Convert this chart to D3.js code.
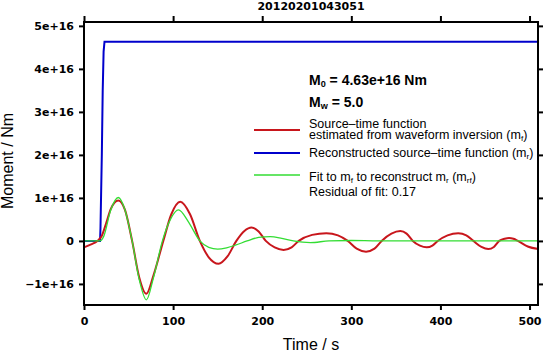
<!DOCTYPE html>
<html>
<head>
<meta charset="utf-8">
<script src="https://cdn.jsdelivr.net/npm/d3@7"></script>
<style>
  body { margin: 0; background: #fff; }
  svg { display: block; }
</style>
</head>
<body>
<svg width="544" height="353"></svg>
<script>
// time (s) and moment (units of 1e16 Nm)
var redT = [0, 8, 15, 20, 25, 30, 38.5, 46, 54, 62, 70, 78, 89, 98, 108, 119, 130, 140, 151, 161, 171, 180, 188, 196, 204, 214, 224, 233, 241, 256, 272, 285, 296, 306, 316.5, 326, 334, 345, 355, 362, 369, 377, 384.6, 391, 397, 408, 420, 429, 437, 446, 453.8, 460, 466, 472, 477, 482, 487, 498, 510];
var redV = [-0.15, -0.08, 0, 0.12, 0.42, 0.74, 0.94, 0.72, 0, -0.85, -1.23, -0.8, 0, 0.62, 0.91, 0.62, 0, -0.38, -0.53, -0.36, 0, 0.23, 0.31, 0.22, 0, -0.15, -0.21, -0.15, 0, 0.14, 0.18, 0.13, 0, -0.18, -0.25, -0.18, 0, 0.17, 0.23, 0.17, 0, -0.11, -0.15, -0.11, 0, 0.13, 0.18, 0.13, 0, -0.14, -0.19, -0.14, 0, 0.05, 0.07, 0.05, 0, -0.13, -0.19];

var greenT = [0, 18, 22, 30, 38.5, 46, 54, 62, 70, 78, 88, 97, 106, 117, 130, 140, 150, 160, 170, 183, 196, 209, 222, 235, 254, 275, 300, 330, 510];
var greenV = [0, 0, 0.1, 0.72, 1.01, 0.72, 0, -0.9, -1.37, -0.85, 0, 0.5, 0.72, 0.45, 0, -0.15, -0.19, -0.16, -0.1, 0, 0.08, 0.1, 0.06, 0, -0.04, 0, 0.01, 0, 0];

var blueT = [0, 18, 18.5, 20, 21, 22, 23, 510];
var blueV = [0, 0, 0.3, 2.0, 3.5, 4.4, 4.63, 4.63];

var xTicks = [0, 100, 200, 300, 400, 500];
var yTicks = [-1, 0, 1, 2, 3, 4, 5];
var yTickLabels = ["\u22121e+16", "0", "1e+16", "2e+16", "3e+16", "4e+16", "5e+16"];

var svg = d3.select("svg");
var pLeft = 84, pRight = 538, pTop = 22, pBottom = 305;

var x = d3.scaleLinear().domain([0, 509.5]).range([pLeft, pRight]);
var y = d3.scaleLinear().domain([-1.49, 5.09]).range([pBottom, pTop]);

function pts(T, V) {
  return T.map(function(t, i) { return [t, V[i]]; });
}

var smooth = d3.line()
  .x(function(d) { return x(d[0]); })
  .y(function(d) { return y(d[1]); })
  .curve(d3.curveMonotoneX);

var straight = d3.line()
  .x(function(d) { return x(d[0]); })
  .y(function(d) { return y(d[1]); });

var plot = svg.append("g");

plot.append("path")
  .attr("d", straight(pts(blueT, blueV)))
  .attr("fill", "none")
  .attr("stroke", "#0000cc")
  .attr("stroke-width", 2);

plot.append("path")
  .attr("d", smooth(pts(redT, redV)))
  .attr("fill", "none")
  .attr("stroke", "#c8161c")
  .attr("stroke-width", 2);

plot.append("path")
  .attr("d", smooth(pts(greenT, greenV)))
  .attr("fill", "none")
  .attr("stroke", "#33dd33")
  .attr("stroke-width", 1.3);

// frame
svg.append("rect")
  .attr("x", pLeft).attr("y", pTop)
  .attr("width", pRight - pLeft).attr("height", pBottom - pTop)
  .attr("fill", "none")
  .attr("stroke", "#000")
  .attr("stroke-width", 2);

var tickFont = "'DejaVu Sans', sans-serif";

// axes
svg.append("g")
  .attr("transform", "translate(" + pLeft + ",0)")
  .call(d3.axisLeft(y).tickValues(yTicks).tickSize(5).tickPadding(5)
    .tickFormat(function(d, i) { return yTickLabels[i]; }));
svg.append("g")
  .attr("transform", "translate(" + pRight + ",0)")
  .call(d3.axisRight(y).tickValues(yTicks).tickSize(5).tickFormat(""));
svg.append("g")
  .attr("transform", "translate(0," + pBottom + ")")
  .call(d3.axisBottom(x).tickValues(xTicks).tickSize(5).tickPadding(7));
svg.append("g")
  .attr("transform", "translate(0," + pTop + ")")
  .call(d3.axisTop(x).tickValues(xTicks).tickSize(6).tickFormat(""));

svg.selectAll(".domain").remove();
svg.selectAll(".tick line").attr("stroke", "#000").attr("stroke-width", 2);
svg.selectAll(".tick text")
  .style("font-family", tickFont)
  .style("font-weight", "bold")
  .style("font-size", "11px")
  .attr("fill", "#000");

// title and axis labels
svg.append("text")
  .attr("x", (pLeft + pRight) / 2).attr("y", 10)
  .attr("text-anchor", "middle")
  .style("font-family", tickFont)
  .style("font-weight", "bold")
  .style("font-size", "11px")
  .text("20120201043051");

svg.append("text")
  .attr("x", (pLeft + pRight) / 2).attr("y", 350)
  .attr("text-anchor", "middle")
  .style("font-family", "'Liberation Sans', Arial, sans-serif")
  .style("font-size", "16px")
  .text("Time / s");

svg.append("text")
  .attr("transform", "translate(13,161) rotate(-90)")
  .attr("text-anchor", "middle")
  .style("font-family", "'Liberation Sans', Arial, sans-serif")
  .style("font-size", "16px")
  .text("Moment / Nm");

// legend
var lg = svg.append("g")
  .style("font-family", "'Liberation Sans', Arial, sans-serif")
  .style("font-size", "12.5px");

function label(yy, parts, bold, size) {
  var t = lg.append("text").attr("x", 309).attr("y", yy);
  if (bold) t.style("font-weight", "bold");
  if (size) t.style("font-size", size);
  parts.forEach(function(p) {
    var s = t.append("tspan").text(p[0]);
    if (p[1]) s.attr("baseline-shift", "-25%").style("font-size", "65%");
  });
  return t;
}

label(85, [["M"], ["0", 1], [" = 4.63e+16 Nm"]], true, "14px");
label(106.5, [["M"], ["w", 1], [" = 5.0"]], true, "14px");
label(128, [["Source\u2013time function"]]);
label(139, [["estimated from waveform inversion (m"], ["f", 1], [")"]]);
label(157, [["Reconstructed source\u2013time function (m"], ["r", 1], [")"]]);
label(181, [["Fit to m"], ["f", 1], [" to reconstruct m"], ["r", 1], [" (m"], ["rf", 1], [")"]]);
label(196, [["Residual of fit: 0.17"]]);

var keys = [
  { y: 130, color: "#c8161c", w: 2 },
  { y: 153, color: "#0000cc", w: 2 },
  { y: 175, color: "#33dd33", w: 1.3 }
];
lg.selectAll("line.key")
  .data(keys)
  .enter().append("line")
  .attr("class", "key")
  .attr("x1", 254).attr("x2", 300)
  .attr("y1", function(d) { return d.y; })
  .attr("y2", function(d) { return d.y; })
  .attr("stroke", function(d) { return d.color; })
  .attr("stroke-width", function(d) { return d.w; });
</script>
</body>
</html>
